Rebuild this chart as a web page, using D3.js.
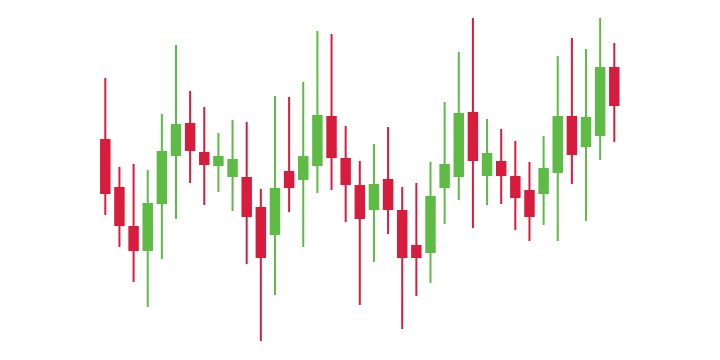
<!DOCTYPE html>
<html>
<head>
<meta charset="utf-8">
<script src="https://cdn.jsdelivr.net/npm/d3@7"></script>
<style>
  body { margin: 0; background: #fff; }
</style>
</head>
<body>
<div id="chart"></div>
<script>
const opens  = [221, 173, 134, 109, 156, 204, 237, 208, 194, 183, 183, 153, 125, 189, 180, 194, 244, 202, 175, 150, 181, 150, 115, 107, 172, 183, 248, 184, 199, 184, 170, 166, 187, 244, 213, 224, 293];
const closes = [166, 134, 109, 157, 209, 236, 209, 195, 204, 201, 143, 102, 172, 172, 204, 245, 202, 175, 141, 176, 150, 102, 102, 164, 196, 247, 199, 207, 184, 162, 143, 192, 244, 205, 243, 293, 254];
const highs  = [282, 193, 196, 190, 246, 315, 269, 253, 227, 240, 238, 171, 264, 263, 278, 329, 326, 234, 199, 216, 233, 173, 177, 198, 258, 308, 342, 241, 231, 219, 198, 224, 304, 322, 311, 342, 317];
const lows   = [145, 113, 78, 53, 101, 141, 177, 155, 168, 149, 96, 19, 65, 148, 113, 167, 170, 138, 55, 98, 126, 31, 64, 77, 136, 160, 132, 155, 156, 130, 119, 135, 119, 176, 139, 200, 218];

const data = opens.map((o, i) => ({ i: i, open: o, close: closes[i], high: highs[i], low: lows[i] }));

const width = 720, height = 360;
const upColor = "#5dbb46", downColor = "#d81c3d";

const svg = d3.select("#chart").append("svg")
    .attr("width", width)
    .attr("height", height);

const x = d3.scalePoint()
    .domain(data.map(d => d.i))
    .range([105.3, 614.3]);
const bodyW = x.step() * 0.74;

const y = d3.scaleLinear()
    .domain([0, 360])
    .range([height, 0]);

const candles = svg.selectAll(".candle")
    .data(data)
    .enter()
    .append("g")
    .attr("class", "candle");

// wicks
candles.append("line")
    .attr("x1", d => x(d.i))
    .attr("x2", d => x(d.i))
    .attr("y1", d => y(d.high))
    .attr("y2", d => y(d.low))
    .attr("stroke", d => d.close >= d.open ? upColor : downColor)
    .attr("stroke-width", 2);

// bodies
candles.append("rect")
    .attr("x", d => x(d.i) - bodyW / 2)
    .attr("y", d => y(Math.max(d.open, d.close)))
    .attr("width", bodyW)
    .attr("height", d => Math.abs(y(d.open) - y(d.close)))
    .attr("fill", d => d.close >= d.open ? upColor : downColor);
</script>
</body>
</html>
